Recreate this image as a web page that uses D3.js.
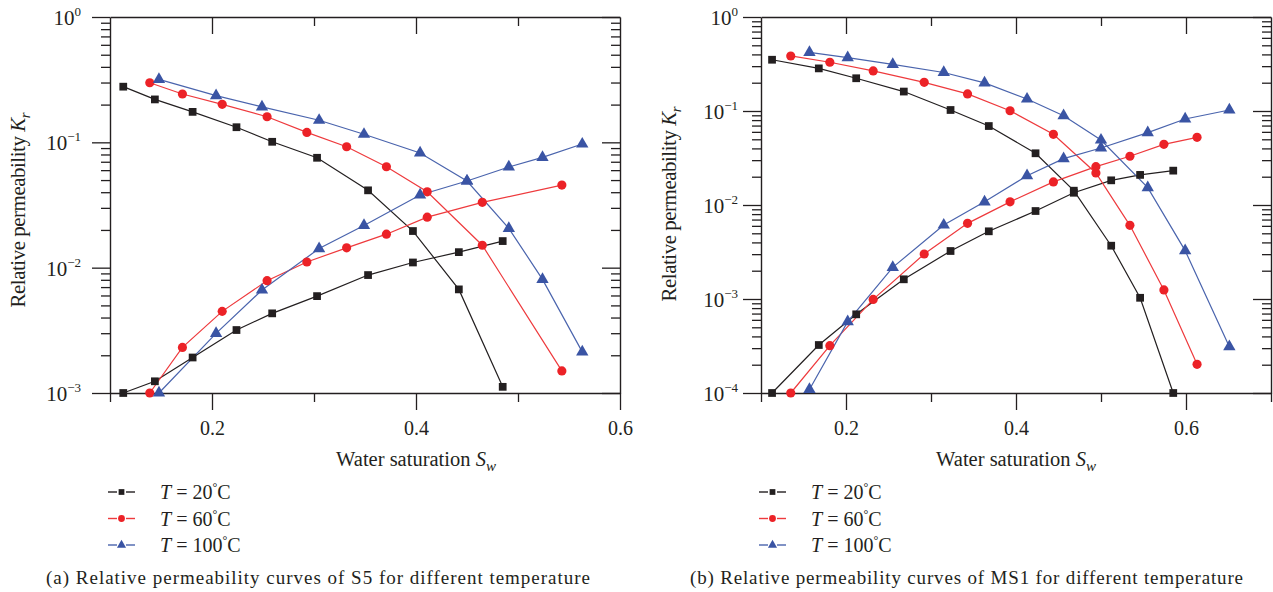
<!DOCTYPE html>
<html lang="en">
<head>
<meta charset="UTF-8">
<title>Relative permeability curves</title>
<style>
  body { margin: 0; background: #fff; }
  svg text { font-family: 'Liberation Serif', 'DejaVu Serif', serif; fill: #231f20; }
</style>
</head>
<body>
<div id="chart"></div>
<script src="https://d3js.org/d3.v7.min.js"></script>
<script>
// ---- data ----
const temps = ["20", "60", "100"];

// (a) S5
const swA20 = [0.113, 0.144, 0.181, 0.224, 0.259, 0.303, 0.353, 0.397, 0.442, 0.485];
const kroA20 = [0.278, 0.22, 0.175, 0.132, 0.101, 0.0753, 0.0414, 0.0196, 0.00671, 0.00112];
const krwA20 = [0.001, 0.00124, 0.00192, 0.00318, 0.00432, 0.00593, 0.00873, 0.011, 0.0133, 0.0163];
const swA60 = [0.139, 0.171, 0.210, 0.254, 0.293, 0.332, 0.371, 0.411, 0.465, 0.543];
const kroA60 = [0.299, 0.243, 0.201, 0.160, 0.120, 0.0922, 0.0639, 0.0403, 0.0151, 0.0015];
const krwA60 = [0.001, 0.00231, 0.00448, 0.00787, 0.0111, 0.0144, 0.0185, 0.0253, 0.0332, 0.0456];
const swA100 = [0.148, 0.204, 0.249, 0.305, 0.349, 0.404, 0.450, 0.491, 0.524, 0.563];
const kroA100 = [0.318, 0.236, 0.192, 0.150, 0.116, 0.0822, 0.0491, 0.0206, 0.00807, 0.00213];
const krwA100 = [0.001, 0.00299, 0.00663, 0.0142, 0.0217, 0.038, 0.0491, 0.0636, 0.0759, 0.0969];

// (b) MS1
const swB20 = [0.113, 0.168, 0.212, 0.268, 0.323, 0.368, 0.423, 0.468, 0.512, 0.546, 0.585];
const kroB20 = [0.351, 0.284, 0.223, 0.161, 0.1025, 0.0692, 0.0355, 0.0142, 0.00369, 0.00103, 0.0001];
const krwB20 = [0.0001, 0.000324, 0.000687, 0.00162, 0.00324, 0.00525, 0.00863, 0.0135, 0.0183, 0.0209, 0.0232];
const swB60 = [0.135, 0.181, 0.232, 0.292, 0.343, 0.393, 0.444, 0.494, 0.534, 0.574, 0.613];
const kroB60 = [0.385, 0.330, 0.267, 0.202, 0.152, 0.1007, 0.0565, 0.0219, 0.00608, 0.00125, 0.000202];
const krwB60 = [0.0001, 0.000319, 0.00099, 0.00301, 0.00638, 0.0108, 0.0176, 0.0256, 0.033, 0.0442, 0.0525];
const swB100 = [0.157, 0.202, 0.255, 0.315, 0.363, 0.413, 0.456, 0.500, 0.555, 0.599, 0.651];
const kroB100 = [0.421, 0.369, 0.313, 0.257, 0.199, 0.134, 0.0891, 0.0491, 0.0153, 0.00327, 0.000311];
const krwB100 = [0.000109, 0.000574, 0.00217, 0.00612, 0.0108, 0.0205, 0.0311, 0.0404, 0.0588, 0.0822, 0.1025];

// ticks
const xTicksA = [0.1, 0.2, 0.3, 0.4, 0.5, 0.6];
const xTicksB = [0.1, 0.2, 0.3, 0.4, 0.5, 0.6, 0.7];
const xLabels = [0.2, 0.4, 0.6];
const decadesA = [-3, -2, -1, 0];
const decadesB = [-4, -3, -2, -1, 0];
const captionA = "(a)  Relative permeability curves of S5 for different temperature";
const captionB = "(b)  Relative permeability curves of MS1 for different temperature";

const colors = ["#231f20", "#ec2227", "#3a54a4"];
const lineColors = ["#231f20", "#ee3a3d", "#4a64ad"];
const shapes = [d3.symbolSquare, d3.symbolCircle, d3.symbolTriangle];
const shapeSize = [60, 66, 66];

const svg = d3.select("#chart").append("svg")
  .attr("width", 1273).attr("height", 592);

function panel(p) {
  const x = d3.scaleLinear().domain(p.xDomain).range([p.left, p.right]);
  const y = d3.scaleLog().domain(p.yDomain).range([p.bottom, p.top]);
  const g = svg.append("g");
  const isMajorX = d => xLabels.some(v => Math.abs(v - d) < 1e-9);

  // log ticks
  const yTicks = [];
  p.decades.forEach(k => {
    for (let m = 1; m <= 9; m++) {
      const v = m * Math.pow(10, k);
      if (v <= p.yDomain[1] * 1.0001) yTicks.push(v);
    }
  });
  const isMajorY = d => Math.abs(Math.log10(d) - Math.round(Math.log10(d))) < 1e-9;

  // bottom axis (outward)
  const xb = g.append("g").attr("transform", `translate(0,${p.bottom})`)
    .call(d3.axisBottom(x).tickValues(p.xTicks).tickSize(17).tickSizeOuter(0).tickPadding(11)
      .tickFormat(d => isMajorX(d) ? d3.format(".1f")(d) : ""));
  xb.selectAll(".tick line").attr("y2", d => isMajorX(d) ? 17 : 9);
  // top axis (inward)
  const xt = g.append("g").attr("transform", `translate(0,${p.top})`)
    .call(d3.axisBottom(x).tickValues(p.xTicks.slice(1, -1)).tickSize(17).tickSizeOuter(0).tickFormat(""));
  xt.selectAll(".tick line").attr("y2", d => isMajorX(d) ? 17 : 9);
  // left axis (outward)
  const yl = g.append("g").attr("transform", `translate(${p.left},0)`)
    .call(d3.axisLeft(y).tickValues(yTicks).tickSize(18).tickSizeOuter(0).tickFormat(""));
  yl.selectAll(".tick line").attr("x2", d => isMajorY(d) ? -18 : -9);
  // right axis (inward)
  const yr = g.append("g").attr("transform", `translate(${p.right},0)`)
    .call(d3.axisLeft(y).tickValues(yTicks).tickSize(18).tickSizeOuter(0).tickFormat(""));
  yr.selectAll(".tick line").attr("x2", d => isMajorY(d) ? -18 : -9);

  g.selectAll(".domain").attr("stroke", "#231f20").attr("stroke-width", 1.4);
  g.selectAll(".tick line").attr("stroke", "#231f20").attr("stroke-width", 1.3);
  xb.selectAll(".tick text").style("font-size", "20px")
    .style("font-family", "'Liberation Serif', serif").attr("fill", "#231f20");

  // y tick labels 10^k
  p.decades.forEach(k => {
    const t = g.append("text")
      .attr("x", p.labelRight).attr("y", y(Math.pow(10, k)) + 8)
      .attr("text-anchor", "end").style("font-size", "21px");
    t.append("tspan").text("10");
    t.append("tspan").attr("dy", -9).style("font-size", "13px")
      .text(k === 0 ? "0" : "\u2212" + (-k));
  });

  // axis titles
  const xt2 = g.append("text").attr("x", x(0.4)).attr("y", 466)
    .attr("text-anchor", "middle").style("font-size", "20.5px");
  xt2.append("tspan").text("Water saturation ");
  xt2.append("tspan").style("font-style", "italic").text("S");
  xt2.append("tspan").attr("dy", 5).style("font-size", "15px").style("font-style", "italic").text("w");

  const yt = g.append("text")
    .attr("transform", `translate(${p.left - 85},${p.yTitleY}) rotate(-90)`)
    .attr("text-anchor", "middle").style("font-size", "21px")
    .attr("textLength", 195).attr("lengthAdjust", "spacing");
  yt.append("tspan").text("Relative permeability ");
  yt.append("tspan").style("font-style", "italic").text("K");
  yt.append("tspan").attr("dy", 5).style("font-size", "15px").style("font-style", "italic").text("r");

  // curves
  const line = d3.line().x(d => x(d[0])).y(d => y(d[1]));
  p.series.forEach((s, i) => {
    [s.kro, s.krw].forEach(kr => {
      const pts = s.sw.map((v, j) => [v, kr[j]]);
      g.append("path").datum(pts)
        .attr("d", line).attr("fill", "none")
        .attr("stroke", lineColors[i]).attr("stroke-width", 1.2);
    });
  });
  p.series.forEach((s, i) => {
    [s.kro, s.krw].forEach(kr => {
      const pts = s.sw.map((v, j) => [v, kr[j]]);
      g.selectAll(null).data(pts).enter().append("path")
        .attr("transform", d => `translate(${x(d[0])},${y(d[1])})`)
        .attr("d", d3.symbol().type(shapes[i]).size(shapeSize[i]))
        .attr("fill", colors[i]);
    });
  });

  // legend
  temps.forEach((t, i) => {
    const ly = 492 + i * 26.5;
    const lx = p.left;
    g.append("line").attr("x1", lx - 2).attr("x2", lx + 7).attr("y1", ly).attr("y2", ly)
      .attr("stroke", lineColors[i]).attr("stroke-width", 1.4);
    g.append("line").attr("x1", lx + 16).attr("x2", lx + 25).attr("y1", ly).attr("y2", ly)
      .attr("stroke", lineColors[i]).attr("stroke-width", 1.4);
    g.append("path").attr("transform", `translate(${lx + 11.5},${ly})`)
      .attr("d", d3.symbol().type(shapes[i]).size(shapeSize[i] * 0.55))
      .attr("fill", colors[i]);
    const tx = g.append("text").attr("x", lx + 50).attr("y", ly + 7).style("font-size", "20px");
    tx.append("tspan").style("font-style", "italic").text("T");
    tx.append("tspan").text(" = " + t);
    tx.append("tspan").attr("dy", -8).style("font-size", "12px").text("\u00b0");
    tx.append("tspan").attr("dy", 8).text("C");
  });

  g.append("text").attr("x", p.capX).attr("y", 584)
    .style("font-size", "19px")
    .attr("textLength", p.capLen).attr("lengthAdjust", "spacing")
    .text(p.caption);
}

panel({
  left: 110, right: 620, top: 17, bottom: 393,
  xDomain: [0.1, 0.6], yDomain: [1e-3, 1], labelRight: 81,
  xTicks: xTicksA, decades: decadesA, yTitleY: 210, capX: 46, capLen: 544, caption: captionA,
  series: [
    { sw: swA20, kro: kroA20, krw: krwA20 },
    { sw: swA60, kro: kroA60, krw: krwA60 },
    { sw: swA100, kro: kroA100, krw: krwA100 }
  ]
});
panel({
  left: 761, right: 1271, top: 17, bottom: 393,
  xDomain: [0.1, 0.7], yDomain: [1e-4, 1], labelRight: 738,
  xTicks: xTicksB, decades: decadesB, yTitleY: 204, capX: 690, capLen: 553, caption: captionB,
  series: [
    { sw: swB20, kro: kroB20, krw: krwB20 },
    { sw: swB60, kro: kroB60, krw: krwB60 },
    { sw: swB100, kro: kroB100, krw: krwB100 }
  ]
});
</script>
</body>
</html>
